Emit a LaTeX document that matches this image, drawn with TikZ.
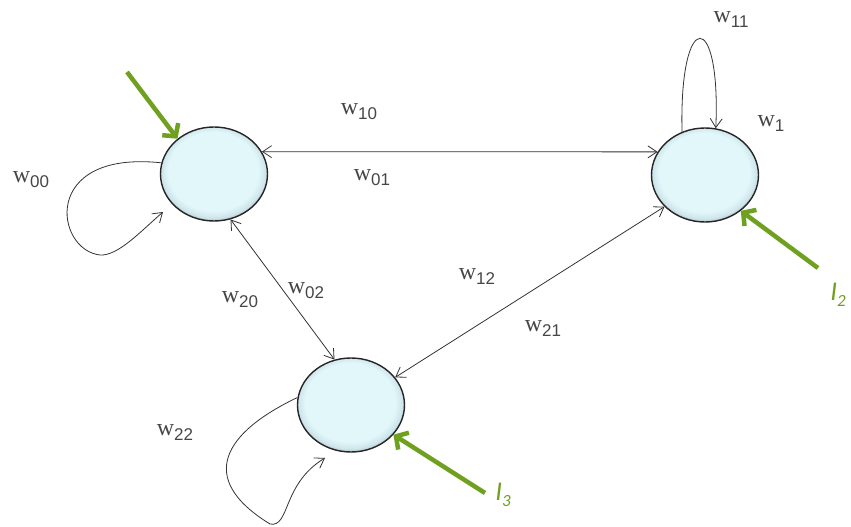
\documentclass[tikz,border=0pt]{standalone}
\usepackage{fontspec}
\setmainfont{Liberation Serif}
\newfontfamily\digfont{Liberation Sans}
\newfontfamily\ifont{Carlito}
\usetikzlibrary{arrows.meta,shapes.geometric}
\definecolor{grn}{RGB}{112,160,32}
\definecolor{txt}{RGB}{70,70,70}
\definecolor{cA}{RGB}{226,247,250}
\definecolor{cB}{RGB}{205,228,234}
\definecolor{cC}{RGB}{95,108,112}
\pgfdeclareradialshading{bubble}{\pgfpoint{-1bp}{3.5bp}}{color(0bp)=(cA); color(21bp)=(cA); color(24.5bp)=(cB); color(28.5bp)=(cC); color(35bp)=(cC)}
\newcommand{\wlab}[1]{{\fontsize{24}{24}\selectfont w}\raisebox{-5pt}{\digfont\fontsize{17}{17}\selectfont #1}}
\newcommand{\ilab}[1]{{\ifont\itshape\fontsize{27}{27}\selectfont I}\raisebox{-6pt}{\ifont\itshape\fontsize{17}{17}\selectfont #1}}
\tikzset{
  neuron/.style={ellipse, draw=black!85, line width=1.4pt, minimum width=107pt, minimum height=94pt, inner sep=0pt, shading=bubble},
  wire/.style={line width=0.8pt, draw=black!80, {Straight Barb[length=9pt,width=12pt]}-{Straight Barb[length=9pt,width=12pt]}},
  selfloop/.style={line width=0.8pt, draw=black!80, -{Straight Barb[length=9pt,width=12pt]}},
  inp/.style={line width=4.5pt, draw=grn, -{Straight Barb[length=9pt,width=20pt]}},
  lab/.style={text=txt, inner sep=0pt},
  ilabel/.style={text=grn, inner sep=0pt}
}
\begin{document}
\begin{tikzpicture}[x=1pt,y=-1pt]
\useasboundingbox (0,0) rectangle (851,527);
\node[neuron] (n0) at (214,174) {};
\node[neuron] (n1) at (705,175) {};
\node[neuron] (n2) at (351,405) {};

\coordinate (s0) at (127,72);
\coordinate (s1) at (818,268);
\coordinate (s2) at (485,493);
\coordinate (e00) at (163,212);
\coordinate (e22) at (325,458);

% connections
\draw[wire] (n0.25) -- (n1.154);
\draw[wire] (n0.-70) -- (n2.110);
\draw[wire] (n1.218) -- (n2.32);

% self loops
\draw[selfloop] (n0.168) .. controls (40,150) and (55,250) .. (100,255) .. controls (118,256) and (140,232) .. (e00);
\draw[selfloop] (n1.118) .. controls (679,8) and (721,8) .. (n1.77);
\draw[selfloop] (n2.172) .. controls (225,432) and (195,478) .. (270,524) .. controls (290,528) and (282,484) .. (e22);

% inputs
\draw[inp] (s0) -- (n0.136);
\draw[inp] (s1) -- (n1.-45);
\draw[inp] (s2) -- (n2.-35);

% labels
\node[lab] (l00) at (31,180) {\wlab{00}};
\node[lab] (l10) at (359,112) {\wlab{10}};
\node[lab] (l01) at (372,178) {\wlab{01}};
\node[lab] (l11) at (731,19) {\wlab{11}};
\node[lab] (l1) at (771,123) {\wlab{1}};
\node[lab] (l20) at (240,300) {\wlab{20}};
\node[lab] (l02) at (306,291) {\wlab{02}};
\node[lab] (l12) at (477,276) {\wlab{12}};
\node[lab] (l21) at (543,328) {\wlab{21}};
\node[lab] (l22) at (175,432) {\wlab{22}};
\node[ilabel] (i2) at (838,295) {\ilab{2}};
\node[ilabel] (i3) at (503,495) {\ilab{3}};
\end{tikzpicture}
\end{document}
